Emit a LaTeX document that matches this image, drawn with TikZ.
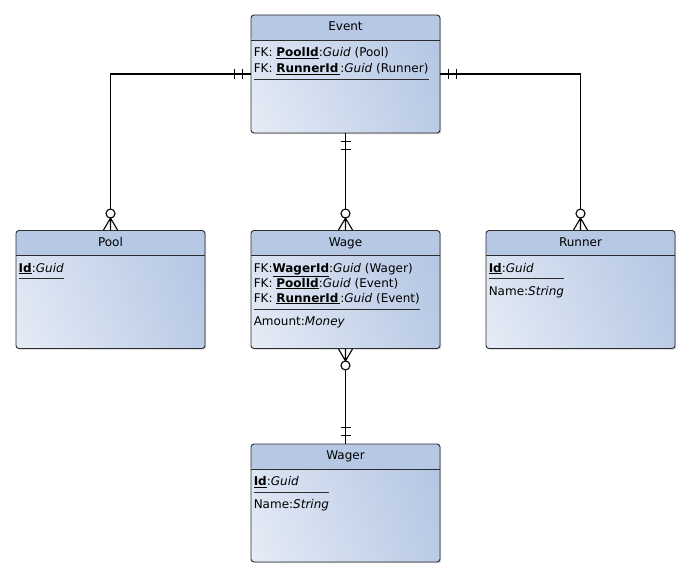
\documentclass[tikz,border=0pt]{standalone}
\usepackage{fontspec}
\setmainfont{DejaVu Sans}
\usetikzlibrary{shadows,shadings}

\definecolor{hdrblue}{RGB}{182,200,228}
\definecolor{bodylight}{RGB}{230,236,246}
\definecolor{bodydark}{RGB}{178,197,227}
\definecolor{edgegray}{RGB}{45,45,45}

\tikzset{
entity/.style={
draw=edgegray,
line width=0.9pt,
rounded corners=3pt,
minimum width=189pt,
minimum height=118pt,
inner sep=0pt,
shade,
shading=bilinear interpolation,
upper left=bodylight!75!bodydark,
lower left=bodylight,
upper right=bodydark,
lower right=bodydark!85!bodylight,
drop shadow={shadow xshift=1.2pt,shadow yshift=-1.2pt,opacity=0.35},
path picture={
\fill[hdrblue] (path picture bounding box.north west)
rectangle ([yshift=-25pt]path picture bounding box.north east);
\draw[edgegray,line width=0.9pt]
([yshift=-25pt]path picture bounding box.north west)
-- ([yshift=-25pt]path picture bounding box.north east);
}
},
title/.style={anchor=base,inner sep=0pt},
row/.style={anchor=base west,inner sep=0pt},
sepline/.style={draw=edgegray,line width=0.7pt},
conn/.style={draw=black,line width=1.2pt},
marker/.style={black,line width=1.1pt},
onlyone/.pic={
\draw[marker] (8,-5) -- (8,5) (16,-5) -- (16,5);
},
zeromany/.pic={
\draw[marker] (0,-7) -- (12,0) -- (0,7) (0,0) -- (12,0);
\draw[marker,fill=white] (16.5,0) circle (4.5pt);
}
}

\begin{document}
\begin{tikzpicture}[x=1pt,y=1pt,font=\fontsize{12pt}{14pt}\selectfont]

\useasboundingbox[fill=white] (0,0) rectangle (689,-578);

%%%%%%%%%%%%%%%%%%%%%%%%%%%%%%%%%%%%%%%%%%%%%%%%%%%%%%%%%%%%%%
% EVENT
%%%%%%%%%%%%%%%%%%%%%%%%%%%%%%%%%%%%%%%%%%%%%%%%%%%%%%%%%%%%%%

\node[entity](event) at (345.5,-74) {};

\node[title](evtitle)
at ([yshift=-16pt]event.north)
{Event};

\node[row](ev1)
at ([xshift=3pt,yshift=-42pt]event.north west)
{FK: \underline{\textbf{PoolId}}:\textit{Guid} (Pool)};

\node[row](ev2)
at ([xshift=3pt,yshift=-58pt]event.north west)
{FK: \underline{\textbf{RunnerId}\,}:\textit{Guid} (Runner)};

\coordinate (evsep) at ([yshift=-7pt]ev2.base west);
\draw[sepline] (evsep) -- (evsep -| ev2.east);

%%%%%%%%%%%%%%%%%%%%%%%%%%%%%%%%%%%%%%%%%%%%%%%%%%%%%%%%%%%%%%
% POOL
%%%%%%%%%%%%%%%%%%%%%%%%%%%%%%%%%%%%%%%%%%%%%%%%%%%%%%%%%%%%%%

\node[entity](pool) at (110.5,-289.5) {};

\node[title](pltitle)
at ([yshift=-16pt]pool.north)
{Pool};

\node[row](pl1)
at ([xshift=3pt,yshift=-42pt]pool.north west)
{\underline{\textbf{Id}}:\textit{Guid}};

\coordinate (plsep) at ([yshift=-6.6pt]pl1.base west);
\draw[sepline] (plsep) -- (plsep -| pl1.east);

%%%%%%%%%%%%%%%%%%%%%%%%%%%%%%%%%%%%%%%%%%%%%%%%%%%%%%%%%%%%%%
% WAGE
%%%%%%%%%%%%%%%%%%%%%%%%%%%%%%%%%%%%%%%%%%%%%%%%%%%%%%%%%%%%%%

\node[entity](wage) at (345.5,-289.5) {};

\node[title](wgtitle)
at ([yshift=-16pt]wage.north)
{Wage};

\node[row](wg1)
at ([xshift=3pt,yshift=-42pt]wage.north west)
{FK:\underline{\textbf{WagerId}}:\textit{Guid} (Wager)};

\node[row](wg2)
at ([xshift=3pt,yshift=-57pt]wage.north west)
{FK: \underline{\textbf{PoolId}}:\textit{Guid} (Event)};

\node[row](wg3)
at ([xshift=3pt,yshift=-72pt]wage.north west)
{FK: \underline{\textbf{RunnerId}\,}:\textit{Guid} (Event)};

\coordinate (wgsep) at ([yshift=-7pt]wg3.base west);
\draw[sepline] (wgsep) -- (wgsep -| wg3.east);

\node[row](wg4)
at ([xshift=3pt,yshift=-95pt]wage.north west)
{Amount:\textit{Money}};

%%%%%%%%%%%%%%%%%%%%%%%%%%%%%%%%%%%%%%%%%%%%%%%%%%%%%%%%%%%%%%
% RUNNER
%%%%%%%%%%%%%%%%%%%%%%%%%%%%%%%%%%%%%%%%%%%%%%%%%%%%%%%%%%%%%%

\node[entity](runner) at (580.5,-289.5) {};

\node[title](rntitle)
at ([yshift=-16pt]runner.north)
{Runner};

\node[row](rn1)
at ([xshift=3pt,yshift=-42pt]runner.north west)
{\underline{\textbf{Id}}:\textit{Guid}};

\node[row](rn2)
at ([xshift=3pt,yshift=-65pt]runner.north west)
{Name:\textit{String}};

\coordinate (rnsep) at ([yshift=-6.6pt]rn1.base west);
\draw[sepline] (rnsep) -- (rnsep -| rn2.east);

%%%%%%%%%%%%%%%%%%%%%%%%%%%%%%%%%%%%%%%%%%%%%%%%%%%%%%%%%%%%%%
% WAGER
%%%%%%%%%%%%%%%%%%%%%%%%%%%%%%%%%%%%%%%%%%%%%%%%%%%%%%%%%%%%%%

\node[entity](wager) at (345.5,-503) {};

\node[title](wrtitle)
at ([yshift=-16pt]wager.north)
{Wager};

\node[row](wr1)
at ([xshift=3pt,yshift=-42pt]wager.north west)
{\underline{\textbf{Id}}:\textit{Guid}};

\node[row](wr2)
at ([xshift=3pt,yshift=-65pt]wager.north west)
{Name:\textit{String}};

\coordinate (wrsep) at ([yshift=-6.6pt]wr1.base west);
\draw[sepline] (wrsep) -- (wrsep -| wr2.east);

%%%%%%%%%%%%%%%%%%%%%%%%%%%%%%%%%%%%%%%%%%%%%%%%%%%%%%%%%%%%%%
% CONNECTIONS
%%%%%%%%%%%%%%%%%%%%%%%%%%%%%%%%%%%%%%%%%%%%%%%%%%%%%%%%%%%%%%

\draw[conn] (event.west) -| (pool.north);
\draw[conn] (event.east) -| (runner.north);
\draw[conn] (event.south) -- (wage.north);
\draw[conn] (wage.south) -- (wager.north);

\pic[rotate=180] at (event.west) {onlyone};
\pic at (event.east) {onlyone};
\pic[rotate=-90] at (event.south) {onlyone};
\pic[rotate=90] at (wager.north) {onlyone};

\pic[rotate=90] at (pool.north) {zeromany};
\pic[rotate=90] at (runner.north) {zeromany};
\pic[rotate=90] at (wage.north) {zeromany};
\pic[rotate=-90] at (wage.south) {zeromany};

\end{tikzpicture}
\end{document}
